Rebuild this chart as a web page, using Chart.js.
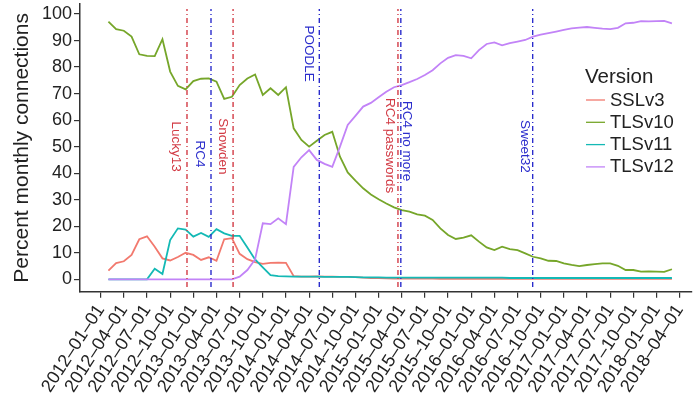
<!DOCTYPE html>
<html>
<head>
<meta charset="utf-8">
<script src="https://cdn.jsdelivr.net/npm/chart.js@4.4.1/dist/chart.umd.min.js"></script>
<style>
  html, body { margin: 0; padding: 0; background: #fff; }
  #wrap { width: 694px; height: 398px; }
</style>
</head>
<body>
<div id="wrap"><canvas id="chart" width="694" height="398"></canvas></div>
<script>
// monthly samples (first of each month)
const months = [
  '2012-02','2012-03','2012-04','2012-05','2012-06','2012-07','2012-08','2012-09','2012-10','2012-11','2012-12',
  '2013-01','2013-02','2013-03','2013-04','2013-05','2013-06','2013-07','2013-08','2013-09','2013-10','2013-11','2013-12',
  '2014-01','2014-02','2014-03','2014-04','2014-05','2014-06','2014-07','2014-08','2014-09','2014-10','2014-11','2014-12',
  '2015-01','2015-02','2015-03','2015-04','2015-05','2015-06','2015-07','2015-08','2015-09','2015-10','2015-11','2015-12',
  '2016-01','2016-02','2016-03','2016-04','2016-05','2016-06','2016-07','2016-08','2016-09','2016-10','2016-11','2016-12',
  '2017-01','2017-02','2017-03','2017-04','2017-05','2017-06','2017-07','2017-08','2017-09','2017-10','2017-11','2017-12',
  '2018-01','2018-02','2018-03'
];

const sslv3 = [
  3.3, 6.1, 6.8, 9.2, 15.1, 16.2, 12.3, 7.9, 7.1, 8.4, 10.0,
  9.2, 7.3, 8.3, 7.0, 15.1, 15.5, 9.6, 7.6, 6.5, 5.8, 6.2, 6.3,
  6.2, 1.2, 1.0, 1.0, 1.1, 1.0, 1.0, 0.9, 0.9, 0.8, 0.6, 0.5,
  0.5, 0.4, 0.3, 0.3, 0.3, 0.3, 0.3, 0.3, 0.2, 0.2, 0.2, 0.2,
  0.2, 0.2, 0.2, 0.2, 0.2, 0.2, 0.2, 0.2, 0.2, 0.2, 0.2, 0.2,
  0.2, 0.2, 0.2, 0.2, 0.2, 0.2, 0.2, 0.2, 0.2, 0.2, 0.2, 0.2,
  0.2, 0.2, 0.2
];

const tlsv10 = [
  97.1, 94.3, 93.7, 91.5, 84.8, 84.2, 84.1, 90.5, 78.3, 72.9, 71.6,
  74.7, 75.6, 75.7, 74.5, 68.0, 68.8, 73.2, 75.7, 77.2, 69.5, 72.0, 69.5,
  72.4, 56.9, 52.5, 50.0, 52.2, 54.4, 55.6, 46.2, 40.3, 37.2, 34.3, 32.0,
  30.2, 28.6, 27.1, 26.1, 25.5, 24.5, 24.0, 22.4, 19.2, 16.7, 15.2, 15.7,
  16.6, 14.2, 12.0, 11.0, 12.3, 11.4, 11.0, 9.8, 8.5, 7.9, 7.0, 6.9,
  6.0, 5.4, 5.0, 5.4, 5.7, 6.0, 6.0, 5.1, 3.5, 3.5, 2.9, 3.0,
  2.9, 2.8, 3.8
];

const tlsv11 = [
  0, 0, 0, 0, 0, 0, 4.0, 2.0, 14.8, 19.2, 18.7,
  16.1, 17.5, 16.0, 18.9, 17.3, 16.4, 16.4, 12.0, 7.5, 4.5, 1.6, 1.2,
  1.1, 1.0, 1.0, 1.0, 1.0, 0.9, 0.9, 0.9, 0.9, 0.8, 0.7, 0.7,
  0.7, 0.6, 0.6, 0.6, 0.6, 0.6, 0.6, 0.6, 0.6, 0.6, 0.6, 0.6,
  0.6, 0.6, 0.6, 0.6, 0.6, 0.5, 0.5, 0.5, 0.5, 0.5, 0.5, 0.5,
  0.5, 0.5, 0.5, 0.5, 0.5, 0.5, 0.5, 0.5, 0.5, 0.5, 0.5, 0.5,
  0.5, 0.5, 0.5
];

const tlsv12 = [
  0, 0, 0, 0, 0, 0, 0, 0, 0, 0, 0,
  0, 0, 0, 0, 0, 0, 1.0, 3.5, 7.5, 21.1, 20.8, 23.0,
  20.8, 42.4, 46.0, 48.7, 45.0, 43.5, 42.4, 50.0, 58.2, 61.6, 65.1, 66.5,
  68.6, 70.7, 72.4, 73.2, 74.3, 75.5, 77.0, 78.8, 81.4, 83.5, 84.5, 84.2,
  83.3, 86.4, 88.7, 89.3, 88.2, 89.0, 89.6, 90.2, 91.5, 92.2, 92.8, 93.4,
  94.0, 94.6, 94.9, 95.1, 94.8, 94.5, 94.3, 94.8, 96.5, 96.7, 97.3, 97.2,
  97.3, 97.4, 96.5
];

const seriesNames = ['SSLv3', 'TLSv10', 'TLSv11', 'TLSv12'];
const seriesData = [sslv3, tlsv10, tlsv11, tlsv12];
const seriesColors = ['#f2796e', '#76a62a', '#14b9b5', '#c283f7'];

// events, position in months since 2012-01
const eventNames = ['Lucky13', 'RC4', 'Snowden', 'POODLE', 'RC4 passwords', 'RC4 no more', 'Sweet32'];
const eventMonths = [11.18, 14.29, 17.15, 28.32, 38.51, 38.88, 55.96];
const eventKinds = ['red', 'blue', 'red', 'blue', 'red', 'blue', 'blue'];

const xTickLabels = [
  '2012-01-01','2012-04-01','2012-07-01','2012-10-01',
  '2013-01-01','2013-04-01','2013-07-01','2013-10-01',
  '2014-01-01','2014-04-01','2014-07-01','2014-10-01',
  '2015-01-01','2015-04-01','2015-07-01','2015-10-01',
  '2016-01-01','2016-04-01','2016-07-01','2016-10-01',
  '2017-01-01','2017-04-01','2017-07-01','2017-10-01',
  '2018-01-01','2018-04-01'
];
const yTicks = [0, 10, 20, 30, 40, 50, 60, 70, 80, 90, 100];

// styling
const FONT = '"Liberation Sans", Arial, Helvetica, sans-serif';
const TEXT = '#222';
const kindColor = { red: '#d23a44', blue: '#2a2ccc' };
const labelY = [50.0, 47.2, 50.1, 85.1, 50.4, 52.1, 50.1];   // label centre, data units
const labelDx = [-11.5, -11, -10.6, -10.8, -8.5, 6, -7.6];   // px from the line

function monthIndex(s) {
  const p = s.split('-');
  return (parseInt(p[0], 10) - 2012) * 12 + parseInt(p[1], 10) - 1;
}
const xTickValues = xTickLabels.map(monthIndex);

const eventSets = eventMonths.map((m, i) => ({
  label: eventNames[i],
  data: [{ x: m, y: -2.9 }, { x: m, y: 101.9 }],
  borderColor: kindColor[eventKinds[i]],
  borderWidth: 1.4,
  borderDash: [5, 3, 1, 3],
  pointRadius: 0,
  fill: false
}));

// later series drawn on top, events on top of everything
const lineSets = seriesNames.map((name, i) => ({
  label: name,
  data: months.map((m, j) => ({ x: monthIndex(m), y: seriesData[i][j] })),
  borderColor: seriesColors[i],
  borderWidth: 1.8,
  pointRadius: 0,
  tension: 0,
  fill: false
})).reverse();

const eventLabels = {
  id: 'eventLabels',
  afterDatasetsDraw(chart) {
    const { ctx, scales: { x, y } } = chart;
    ctx.save();
    ctx.font = '13.5px ' + FONT;
    ctx.textAlign = 'center';
    ctx.textBaseline = 'middle';
    eventNames.forEach((name, i) => {
      const px = x.getPixelForValue(eventMonths[i]) + labelDx[i];
      const py = y.getPixelForValue(labelY[i]);
      ctx.save();
      ctx.translate(px, py);
      ctx.rotate(Math.PI / 2);
      ctx.fillStyle = kindColor[eventKinds[i]];
      ctx.fillText(name, 0, 0);
      ctx.restore();
    });
    ctx.restore();
  }
};

const versionLegend = {
  id: 'versionLegend',
  afterDraw(chart) {
    const ctx = chart.ctx;
    ctx.save();
    ctx.fillStyle = TEXT;
    ctx.font = '20.5px ' + FONT;
    ctx.textBaseline = 'alphabetic';
    ctx.fillText('Version', 585, 83);
    ctx.font = '18.5px ' + FONT;
    ctx.textBaseline = 'middle';
    seriesNames.forEach((name, i) => {
      const yy = 100 + i * 22.3;
      ctx.strokeStyle = seriesColors[i];
      ctx.lineWidth = 1.3;
      ctx.beginPath();
      ctx.moveTo(586, yy);
      ctx.lineTo(605, yy);
      ctx.stroke();
      ctx.fillText(name, 610, yy + 0.5);
    });
    ctx.restore();
  }
};

new Chart(document.getElementById('chart'), {
  type: 'line',
  data: { datasets: eventSets.concat(lineSets) },
  options: {
    responsive: false,
    animation: false,
    devicePixelRatio: 1,
    layout: { padding: { top: 4, right: 2, left: 0, bottom: 0 } },
    plugins: { legend: { display: false }, tooltip: { enabled: false } },
    scales: {
      x: {
        type: 'linear',
        min: -2.68,
        max: 76.6,
        afterBuildTicks: s => { s.ticks = xTickValues.map(v => ({ value: v })); },
        afterFit: s => { s.height = 106.3; s.paddingLeft = 0; s.paddingRight = 0; },
        ticks: {
          autoSkip: false,
          minRotation: 57,
          maxRotation: 57,
          padding: 3,
          color: TEXT,
          font: { family: FONT, size: 18 },
          callback: (v, i) => xTickLabels[i].replace(/-/g, '\u2013')
        },
        grid: { drawOnChartArea: false, drawTicks: true, tickLength: 6, color: '#333', lineWidth: 1.2 },
        border: { display: true, color: '#333', width: 1.5 }
      },
      y: {
        min: -4.67,
        max: 103.77,
        afterBuildTicks: s => { s.ticks = yTicks.map(v => ({ value: v })); },
        afterFit: s => { s.width = 80; s.paddingTop = 0; s.paddingBottom = 0; },
        ticks: {
          padding: 2,
          color: TEXT,
          font: { family: FONT, size: 18 }
        },
        title: {
          display: true,
          text: 'Percent monthly connections',
          color: TEXT,
          font: { family: FONT, size: 21 },
          padding: { top: 10, bottom: 0 }
        },
        grid: { drawOnChartArea: false, drawTicks: true, tickLength: 6, color: '#333', lineWidth: 1.2 },
        border: { display: true, color: '#333', width: 1.5 }
      }
    }
  },
  plugins: [eventLabels, versionLegend]
});
</script>
</body>
</html>
